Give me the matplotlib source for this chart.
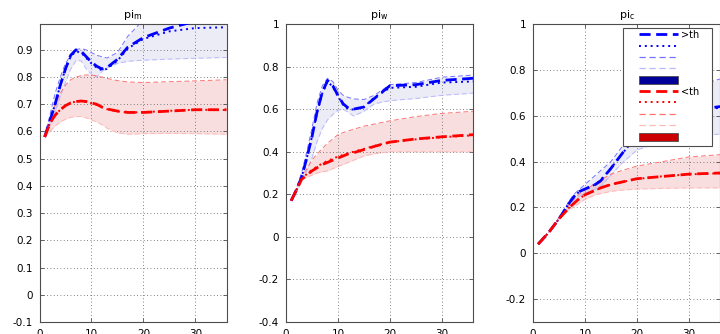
import numpy as np
import matplotlib
matplotlib.use('Agg')
import matplotlib.pyplot as plt
from matplotlib.lines import Line2D
from matplotlib.patches import Patch, Rectangle

# horizon (quarters) at which values were read
x = [1, 2, 3, 4, 5, 6, 7, 8, 9, 10, 11, 12, 13, 15, 17, 20, 25, 30, 36]

# pi_m
pim_hi_mean = [0.58, 0.64, 0.70, 0.77, 0.83, 0.88, 0.90, 0.895, 0.875, 0.855, 0.84, 0.83, 0.835, 0.865, 0.91, 0.945, 0.98, 1.005, 1.015]
pim_hi_med = [0.58, 0.64, 0.70, 0.77, 0.83, 0.875, 0.895, 0.89, 0.87, 0.85, 0.835, 0.825, 0.83, 0.86, 0.905, 0.94, 0.968, 0.98, 0.983]
pim_hi_up = [0.58, 0.66, 0.74, 0.80, 0.85, 0.88, 0.90, 0.905, 0.90, 0.89, 0.88, 0.875, 0.87, 0.89, 0.95, 1.01, 1.05, 1.07, 1.08]
pim_hi_lo = [0.58, 0.62, 0.67, 0.73, 0.78, 0.83, 0.86, 0.86, 0.83, 0.81, 0.80, 0.82, 0.835, 0.85, 0.858, 0.862, 0.866, 0.869, 0.872]
pim_lo_mean = [0.58, 0.63, 0.66, 0.68, 0.695, 0.705, 0.71, 0.712, 0.71, 0.705, 0.70, 0.69, 0.683, 0.675, 0.67, 0.67, 0.675, 0.68, 0.68]
pim_lo_med = [0.58, 0.63, 0.66, 0.68, 0.695, 0.705, 0.71, 0.712, 0.71, 0.704, 0.698, 0.69, 0.682, 0.674, 0.67, 0.671, 0.676, 0.68, 0.679]
pim_lo_up = [0.58, 0.64, 0.70, 0.74, 0.77, 0.79, 0.80, 0.805, 0.808, 0.807, 0.805, 0.80, 0.795, 0.787, 0.782, 0.78, 0.783, 0.786, 0.79]
pim_lo_lo = [0.58, 0.60, 0.62, 0.635, 0.645, 0.652, 0.655, 0.655, 0.65, 0.643, 0.635, 0.625, 0.612, 0.595, 0.59, 0.592, 0.593, 0.592, 0.59]

# pi_w
piw_hi_mean = [0.17, 0.22, 0.28, 0.37, 0.47, 0.59, 0.68, 0.735, 0.71, 0.665, 0.625, 0.605, 0.60, 0.61, 0.65, 0.71, 0.715, 0.735, 0.745]
piw_hi_med = [0.17, 0.22, 0.28, 0.37, 0.47, 0.585, 0.675, 0.73, 0.705, 0.66, 0.62, 0.60, 0.598, 0.61, 0.655, 0.70, 0.705, 0.725, 0.73]
piw_hi_up = [0.17, 0.23, 0.30, 0.40, 0.51, 0.63, 0.71, 0.745, 0.73, 0.69, 0.665, 0.655, 0.648, 0.645, 0.665, 0.715, 0.725, 0.75, 0.76]
piw_hi_lo = [0.17, 0.21, 0.26, 0.31, 0.37, 0.45, 0.51, 0.55, 0.575, 0.595, 0.60, 0.585, 0.568, 0.59, 0.625, 0.64, 0.65, 0.665, 0.675]
piw_lo_mean = [0.17, 0.22, 0.27, 0.29, 0.31, 0.325, 0.34, 0.35, 0.36, 0.37, 0.38, 0.39, 0.395, 0.41, 0.425, 0.445, 0.46, 0.47, 0.48]
piw_lo_med = [0.17, 0.22, 0.27, 0.295, 0.315, 0.33, 0.345, 0.357, 0.367, 0.377, 0.385, 0.393, 0.40, 0.413, 0.427, 0.445, 0.458, 0.468, 0.477]
piw_lo_up = [0.17, 0.22, 0.28, 0.32, 0.36, 0.39, 0.415, 0.44, 0.46, 0.48, 0.49, 0.498, 0.505, 0.52, 0.53, 0.545, 0.565, 0.58, 0.59]
piw_lo_lo = [0.17, 0.22, 0.27, 0.28, 0.29, 0.30, 0.305, 0.31, 0.32, 0.33, 0.34, 0.35, 0.36, 0.38, 0.39, 0.40, 0.40, 0.40, 0.40]

# pi_c
pic_hi_mean = [0.04, 0.065, 0.09, 0.12, 0.15, 0.185, 0.22, 0.25, 0.27, 0.28, 0.29, 0.30, 0.315, 0.37, 0.43, 0.52, 0.59, 0.62, 0.64]
pic_hi_med = [0.04, 0.065, 0.09, 0.12, 0.15, 0.185, 0.22, 0.25, 0.27, 0.28, 0.29, 0.30, 0.318, 0.37, 0.43, 0.51, 0.58, 0.615, 0.635]
pic_hi_up = [0.04, 0.065, 0.09, 0.12, 0.155, 0.19, 0.23, 0.26, 0.28, 0.30, 0.32, 0.34, 0.36, 0.40, 0.46, 0.56, 0.66, 0.72, 0.76]
pic_hi_lo = [0.04, 0.065, 0.09, 0.12, 0.15, 0.18, 0.21, 0.235, 0.25, 0.26, 0.27, 0.28, 0.29, 0.34, 0.39, 0.45, 0.49, 0.51, 0.52]
pic_lo_mean = [0.04, 0.065, 0.09, 0.12, 0.15, 0.175, 0.20, 0.22, 0.24, 0.255, 0.265, 0.275, 0.285, 0.30, 0.31, 0.325, 0.335, 0.345, 0.35]
pic_lo_med = [0.04, 0.065, 0.09, 0.12, 0.15, 0.175, 0.20, 0.22, 0.24, 0.254, 0.264, 0.274, 0.284, 0.30, 0.31, 0.324, 0.336, 0.344, 0.349]
pic_lo_up = [0.04, 0.065, 0.09, 0.12, 0.155, 0.185, 0.215, 0.24, 0.26, 0.275, 0.29, 0.305, 0.32, 0.345, 0.36, 0.38, 0.40, 0.42, 0.43]
pic_lo_lo = [0.04, 0.065, 0.09, 0.12, 0.148, 0.17, 0.19, 0.205, 0.22, 0.235, 0.245, 0.255, 0.26, 0.27, 0.275, 0.28, 0.283, 0.285, 0.285]

titles = ['$\\mathregular{pi_m}$', '$\\mathregular{pi_w}$', '$\\mathregular{pi_c}$']
ylims = [(-0.1, 0.995), (-0.4, 1.0), (-0.3, 1.0)]
yticks = [np.arange(-0.1, 0.95, 0.1), np.arange(-0.4, 1.05, 0.2), np.arange(-0.2, 1.05, 0.2)]
panels = [
    (pim_hi_mean, pim_hi_med, pim_hi_up, pim_hi_lo, pim_lo_mean, pim_lo_med, pim_lo_up, pim_lo_lo),
    (piw_hi_mean, piw_hi_med, piw_hi_up, piw_hi_lo, piw_lo_mean, piw_lo_med, piw_lo_up, piw_lo_lo),
    (pic_hi_mean, pic_hi_med, pic_hi_up, pic_hi_lo, pic_lo_mean, pic_lo_med, pic_lo_up, pic_lo_lo),
]

plt.rcParams['font.family'] = ['DejaVu Sans']
plt.rcParams['font.size'] = 7

blue = (0, 0, 1)
red = (1, 0, 0)
b_up, b_lo = (0.45, 0.45, 1), (0.72, 0.72, 1)
r_up, r_lo = (1, 0.45, 0.45), (1, 0.72, 0.72)

fig = plt.figure(figsize=(7.2, 3.34), dpi=100)
lefts = [39.5, 286, 533]
for i in range(3):
    ax = fig.add_axes([lefts[i] / 720, 12 / 334, 187 / 720, 298 / 334])
    hm, hd, hu, hl, lm, ld, lu, ll = panels[i]
    ax.fill_between(x, hl, hu, color=(0, 0, 0.55), alpha=0.075, lw=0, zorder=1)
    ax.fill_between(x, ll, lu, color=(0.8, 0, 0), alpha=0.13, lw=0, zorder=1)
    for m, d, u, l, c, cu, cl in [(hm, hd, hu, hl, blue, b_up, b_lo), (lm, ld, lu, ll, red, r_up, r_lo)]:
        ax.plot(x, u, color=cu, lw=0.7, dashes=(5, 3), zorder=2)
        ax.plot(x, l, color=cl, lw=0.7, dashes=(5, 3), zorder=2)
        ax.plot(x, m, color=c, lw=2.0, dashes=(4, 2), zorder=3)
        ax.plot(x, d, color=c, lw=1.4, dashes=(1, 2), zorder=3)
    ax.set_xlim(0, 36)
    ax.set_ylim(*ylims[i])
    ax.set_xticks([0, 10, 20, 30])
    ax.set_yticks(yticks[i])
    ax.set_yticklabels(['%g' % round(v, 1) for v in yticks[i]])
    ax.grid(True, color='0.35', lw=0.6, dashes=(1, 3))
    ax.tick_params(direction='in', top=True, right=True, length=3, width=0.6,
                   color='0.3', labelsize=7.5, pad=5)
    for s in ax.spines.values():
        s.set_color('0.3')
        s.set_linewidth(0.8)
    ax.set_title(titles[i], fontsize=8, pad=4)

    if i == 2:
        handles = [
            Line2D([], [], color=blue, lw=2.0, dashes=(4, 2)),
            Line2D([], [], color=blue, lw=1.4, dashes=(1, 2)),
            Line2D([], [], color=b_up, lw=0.9, dashes=(5, 3)),
            Line2D([], [], color=b_lo, lw=0.9, dashes=(5, 3)),
            Patch(facecolor=(0, 0, 0.6), edgecolor='0.3', lw=0.6),
            Line2D([], [], color=red, lw=2.0, dashes=(4, 2)),
            Line2D([], [], color=red, lw=1.4, dashes=(1, 2)),
            Line2D([], [], color=r_up, lw=0.9, dashes=(5, 3)),
            Line2D([], [], color=r_lo, lw=0.9, dashes=(5, 3)),
            Patch(facecolor=(0.8, 0, 0), edgecolor='0.3', lw=0.6),
        ]
        labels = ['>th', '', '', '', '', '<th', '', '', '', '']
        # legend frame drawn separately so the handles sit inset like the original
        box = Rectangle((623 / 720, (334 - 146) / 334), 89 / 720, 118 / 334,
                        transform=fig.transFigure, facecolor='white', edgecolor='0.3',
                        lw=0.8, zorder=4, clip_on=False)
        ax.add_patch(box)
        leg = ax.legend(handles, labels, loc='upper left',
                        bbox_to_anchor=(639 / 720, (334 - 30) / 334),
                        bbox_transform=fig.transFigure,
                        fontsize=7, handlelength=4.0, handleheight=0.9, labelspacing=0.14,
                        handletextpad=0.3, borderpad=0, borderaxespad=0, frameon=False)
        leg.set_zorder(5)

fig.savefig('out.png', dpi=100)
